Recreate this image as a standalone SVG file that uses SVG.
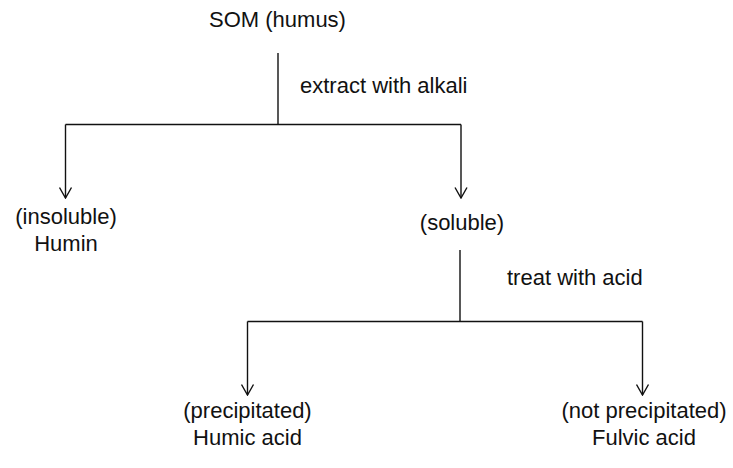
<svg xmlns="http://www.w3.org/2000/svg" width="733" height="468" viewBox="0 0 733 468">
  <style>
    text { font-family: "Liberation Sans", Arial, sans-serif; font-size: 22px; fill: #111; }
    .c { text-anchor: middle; }
    .ln { fill: none; stroke: #111; stroke-width: 1.4; }
  </style>
  <defs>
    <marker id="arr" viewBox="0 0 12 14" refX="11" refY="7" markerWidth="12" markerHeight="14" markerUnits="userSpaceOnUse" orient="auto">
      <path d="M0.5,1 L11,7 L0.5,13" fill="none" stroke="#111" stroke-width="1.4"/>
    </marker>
  </defs>
  <rect width="733" height="468" fill="#fff"/>
  <g id="connectors">
    <path class="ln" d="M278,53 V124.5"/>
    <path class="ln" d="M65.5,124.5 H461"/>
    <path class="ln" d="M65.5,124.5 V198" marker-end="url(#arr)"/>
    <path class="ln" d="M461,124.5 V198" marker-end="url(#arr)"/>
    <path class="ln" d="M460,250 V321.5"/>
    <path class="ln" d="M247.5,321.5 H642.5"/>
    <path class="ln" d="M247.5,321.5 V395" marker-end="url(#arr)"/>
    <path class="ln" d="M642.5,321.5 V395" marker-end="url(#arr)"/>
  </g>
  <g id="label-alkali"><text x="300" y="93">extract with alkali</text></g>
  <g id="label-acid"><text x="507" y="285">treat with acid</text></g>
  <g id="node-som"><text class="c" x="277.5" y="27">SOM (humus)</text></g>
  <g id="node-humin">
    <text class="c" x="66" y="224">(insoluble)</text>
    <text class="c" x="66" y="251">Humin</text>
  </g>
  <g id="node-soluble"><text class="c" x="462" y="230">(soluble)</text></g>
  <g id="node-humic">
    <text class="c" x="247.5" y="418">(precipitated)</text>
    <text class="c" x="247.5" y="445">Humic acid</text>
  </g>
  <g id="node-fulvic">
    <text class="c" x="644" y="418">(not precipitated)</text>
    <text class="c" x="644" y="445">Fulvic acid</text>
  </g>
</svg>
